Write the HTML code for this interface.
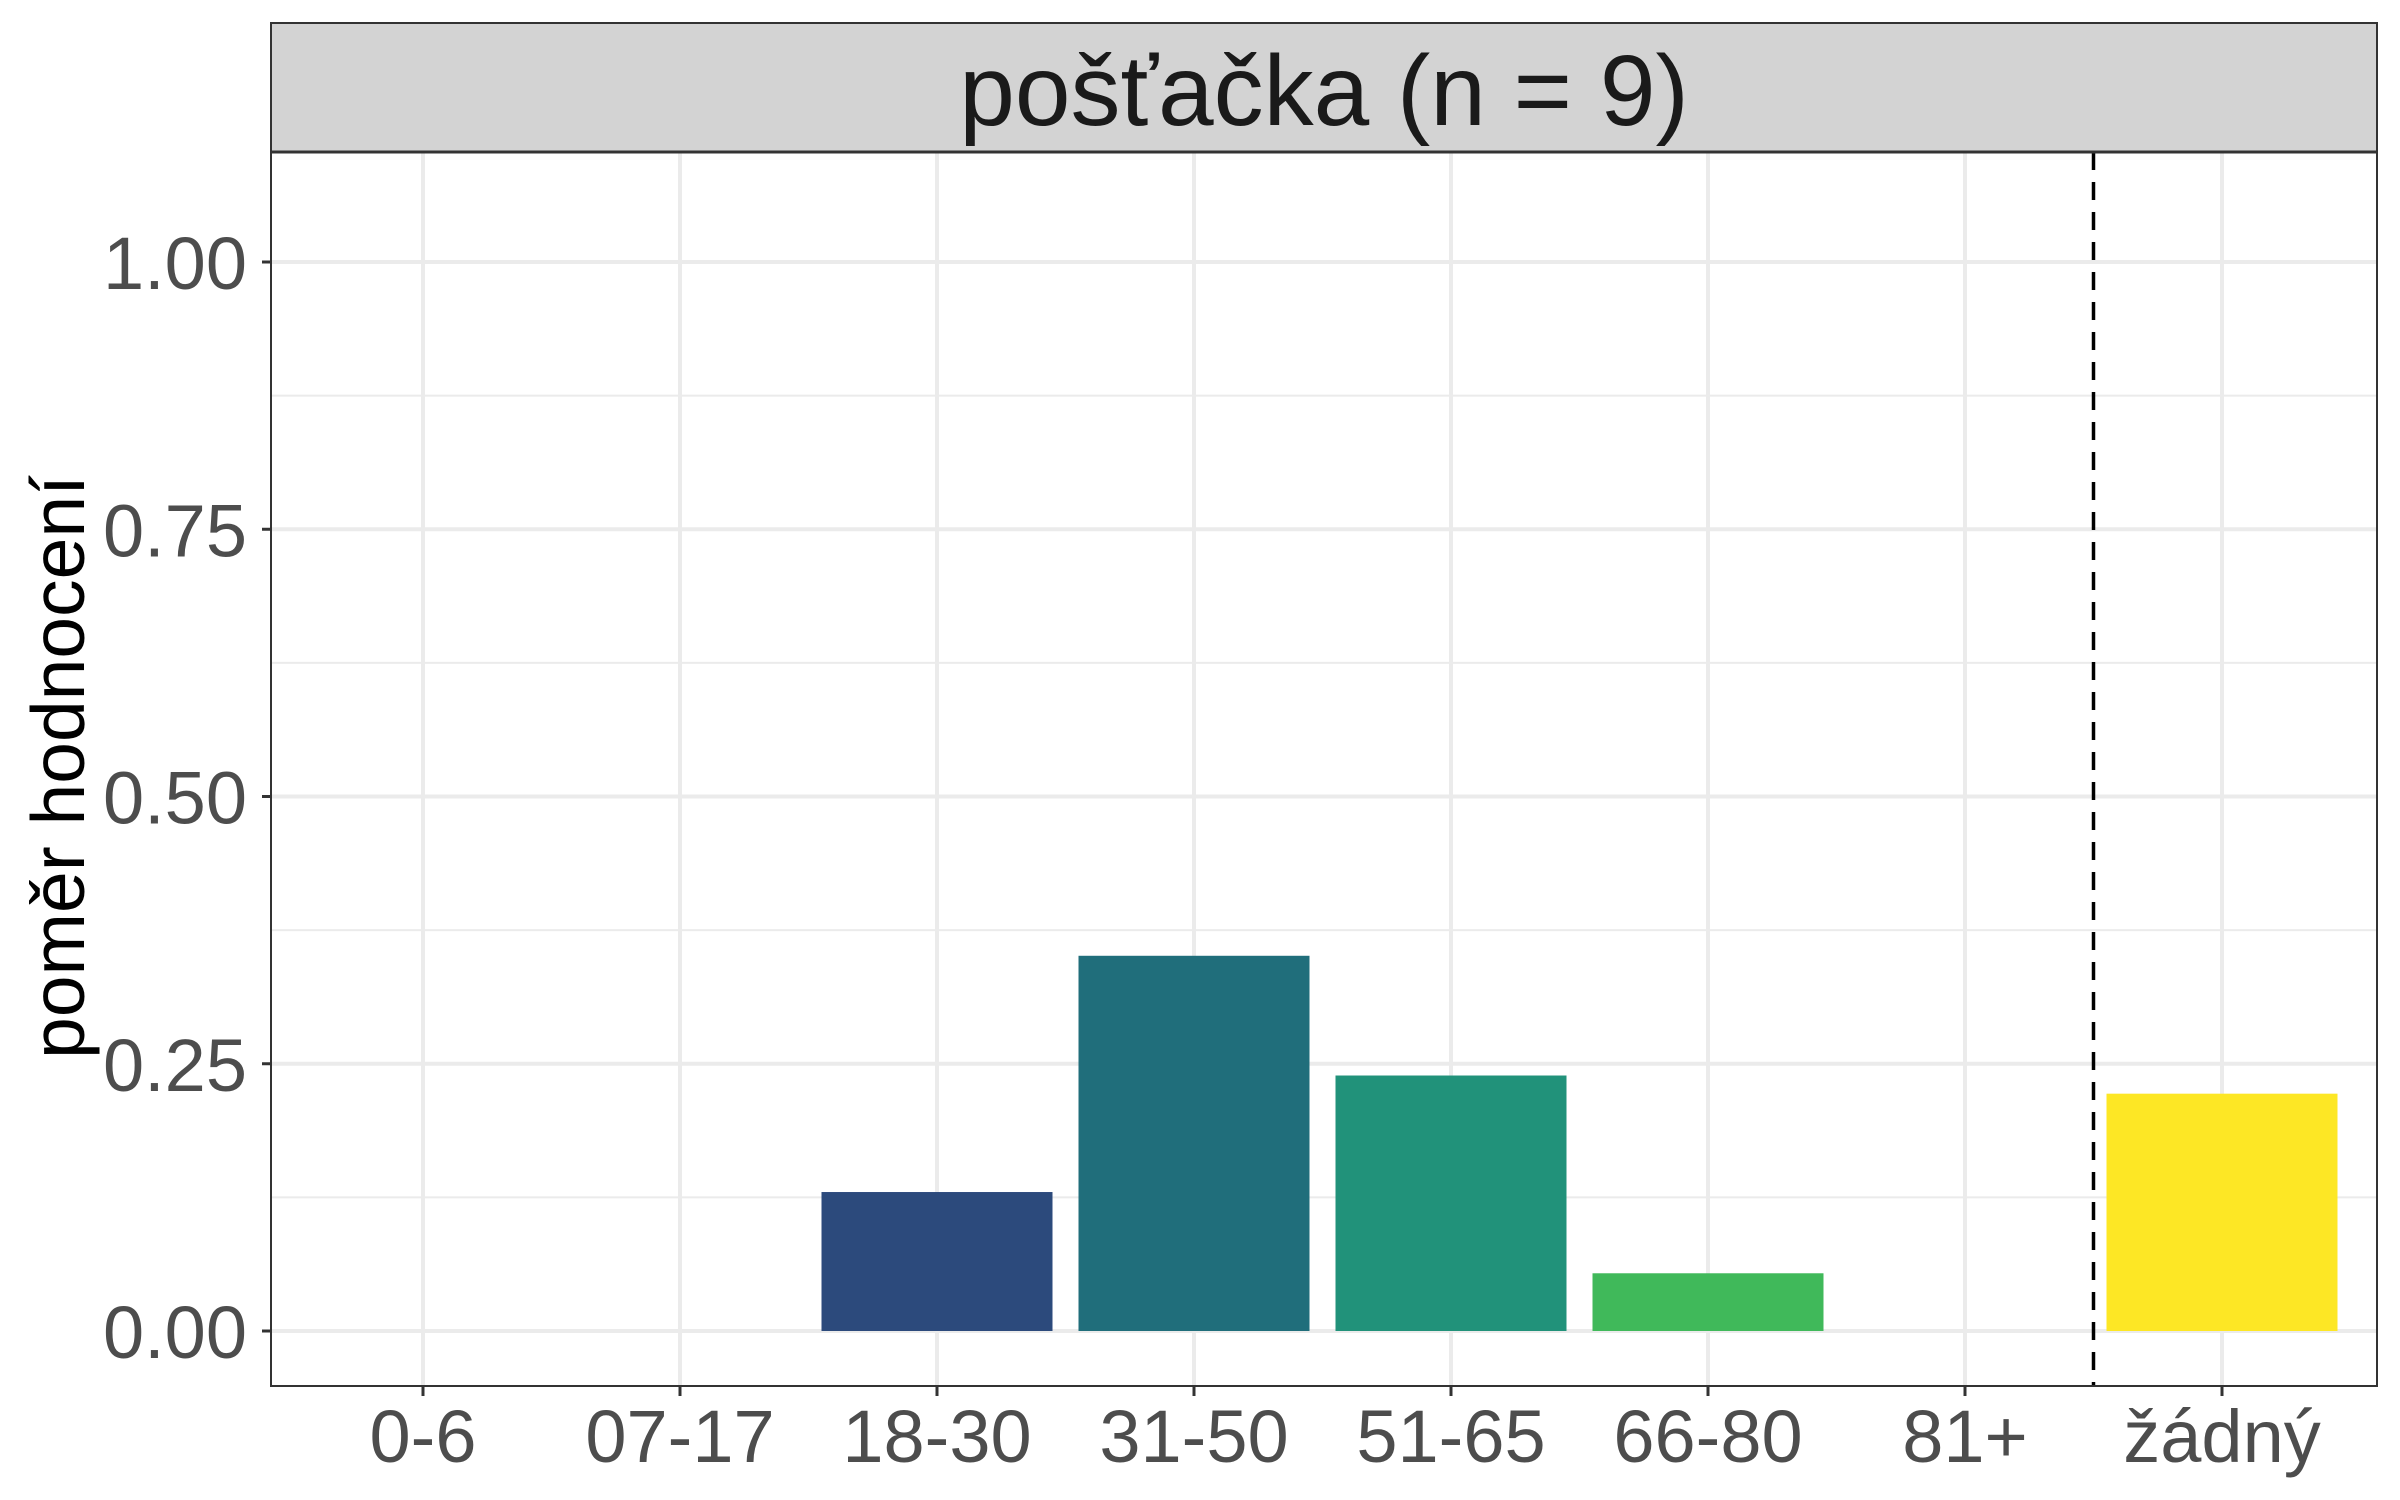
<!DOCTYPE html>
<html><head><meta charset="utf-8"><style>
html,body{margin:0;padding:0;background:#fff;}
svg{display:block;font-family:"Liberation Sans",sans-serif;}
</style></head><body>
<svg id="chart" width="2400" height="1500" viewBox="0 0 2400 1500" xmlns="http://www.w3.org/2000/svg">
<rect x="0" y="0" width="2400" height="1500" fill="#fff"/>
<g id="grid"></g>
<g id="bars"></g>
<g id="axes"></g>
<rect x="271" y="23" width="2106" height="129" fill="#D3D3D3" stroke="#333" stroke-width="2"/>
<text x="1324" y="125" font-size="100" fill="#1A1A1A" text-anchor="middle">pošťačka (n = 9)</text>
<rect x="271" y="152" width="2106" height="1234" fill="none" stroke="#333" stroke-width="2"/>
<line x1="271" y1="152" x2="2377" y2="152" stroke="#333" stroke-width="3"/>
<text transform="translate(84,767) rotate(-90)" font-size="75" fill="#000" text-anchor="middle">poměr hodnocení</text>
</svg>
<script>
const categories = ["0-6","07-17","18-30","31-50","51-65","66-80","81+","žádný"];
const values = [0, 0, 0.13, 0.351, 0.239, 0.054, 0, 0.222];
const colors = ["#440154","#3B528B","#2C4A7C","#206E7B","#21927A","#40B95A","#7AD151","#FDE725"];
const yTicks = [0, 0.25, 0.5, 0.75, 1];
const yTickLabels = ["0.00","0.25","0.50","0.75","1.00"];
const yMinor = [0.125, 0.375, 0.625, 0.875];

const NS = "http://www.w3.org/2000/svg";
const pLeft = 271, pRight = 2377, pTop = 152, pBottom = 1386;
const x0 = 423, step = 257, bw = 231;
function xScale(i){ return x0 + i*step; }
function yScale(v){ return 1331 - v*1069; }
function mk(tag, attrs, parent){
  const e = document.createElementNS(NS, tag);
  for (const k in attrs) e.setAttribute(k, attrs[k]);
  parent.appendChild(e); return e;
}
const grid = document.getElementById('grid');
const bars = document.getElementById('bars');
const axes = document.getElementById('axes');

yMinor.forEach(v => {
  const l = mk('line', {x1:pLeft, x2:pRight, y1:yScale(v), y2:yScale(v), stroke:'#EBEBEB', 'stroke-width':2}, grid);
  
  
});
yTicks.forEach((v, i) => {
  const l = mk('line', {x1:pLeft, x2:pRight, y1:yScale(v), y2:yScale(v), stroke:'#EBEBEB', 'stroke-width':4}, grid);
  
  
  const t = mk('line', {x1:pLeft-9, x2:pLeft, y1:yScale(v), y2:yScale(v), stroke:'#333', 'stroke-width':3}, axes);
  
  
  const tx = mk('text', {x:247, y:yScale(v)+27, 'font-size':74, fill:'#4D4D4D', 'text-anchor':'end'}, axes);
  tx.textContent = yTickLabels[i];
  
  
});
categories.forEach((c, i) => {
  const x = xScale(i);
  const g = mk('line', {x1:x, x2:x, y1:pTop, y2:pBottom, stroke:'#EBEBEB', 'stroke-width':4}, grid);
  
  
  if (values[i] > 0) {
    const r = mk('rect', {x:x-bw/2, y:yScale(values[i]), width:bw, height:yScale(0)-yScale(values[i]), fill:colors[i]}, bars);
    
    
  }
  const t = mk('line', {x1:x, x2:x, y1:pBottom, y2:pBottom+10, stroke:'#333', 'stroke-width':3}, axes);
  
  
  const tx = mk('text', {x:x, y:1462, 'font-size':74, fill:'#4D4D4D', 'text-anchor':'middle'}, axes);
  tx.textContent = c;
  
  
});
const dx = (xScale(6) + xScale(7)) / 2;
const dl = mk('line', {x1:dx, x2:dx, y1:pTop, y2:pBottom, stroke:'#000', 'stroke-width':3.5, 'stroke-dasharray':'18 12'}, bars);


</script>
</body></html>
